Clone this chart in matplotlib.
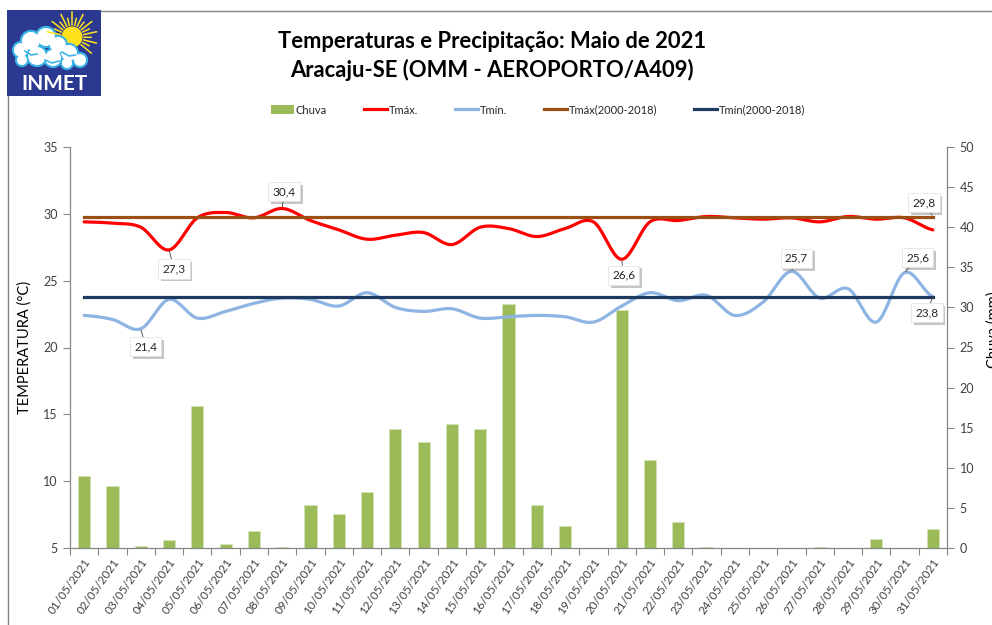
import numpy as np
import matplotlib
matplotlib.use("Agg")
import matplotlib.pyplot as plt
from matplotlib import patheffects
from matplotlib.patches import Rectangle, Circle
from matplotlib.lines import Line2D

plt.rcParams['font.family'] = ['Lato', 'DejaVu Sans']

# dados
dias = ["01/05/2021", "02/05/2021", "03/05/2021", "04/05/2021", "05/05/2021",
        "06/05/2021", "07/05/2021", "08/05/2021", "09/05/2021", "10/05/2021",
        "11/05/2021", "12/05/2021", "13/05/2021", "14/05/2021", "15/05/2021",
        "16/05/2021", "17/05/2021", "18/05/2021", "19/05/2021", "20/05/2021",
        "21/05/2021", "22/05/2021", "23/05/2021", "24/05/2021", "25/05/2021",
        "26/05/2021", "27/05/2021", "28/05/2021", "29/05/2021", "30/05/2021",
        "31/05/2021"]
chuva = [9.0, 7.7, 0.2, 1.0, 17.7, 0.5, 2.1, 0.1, 5.3, 4.2, 7.0, 14.8, 13.2,
         15.5, 14.8, 30.4, 5.3, 2.8, 0.0, 29.7, 11.0, 3.2, 0.1, 0.0, 0.0, 0.0,
         0.1, 0.0, 1.1, 0.0, 2.4]
tmax = [29.4, 29.3, 29.0, 27.3, 29.7, 30.1, 29.7, 30.4, 29.5, 28.8, 28.1,
        28.4, 28.6, 27.7, 29.0, 28.9, 28.3, 28.9, 29.4, 26.6, 29.4, 29.5,
        29.8, 29.7, 29.6, 29.7, 29.4, 29.8, 29.6, 29.7, 28.8]
tmin = [22.4, 22.1, 21.4, 23.6, 22.2, 22.7, 23.3, 23.7, 23.6, 23.1, 24.1,
        23.0, 22.7, 22.9, 22.2, 22.3, 22.4, 22.3, 21.9, 23.1, 24.1, 23.5,
        23.9, 22.4, 23.4, 25.7, 23.7, 24.4, 21.9, 25.6, 23.8]
tmax_normal = 29.8
tmin_normal = 23.8

# rotulos de dados (indice do dia, deslocamento em px)
rot_tmax = [(3, 5, -19), (7, 2, 17), (19, 2, -16)]
rot_tmin = [(2, 5, -18), (25, 5, 13), (29, 13, 15), (30, -6, -16)]


def suave(y, n=20):
    # linha suavizada tipo excel (catmull-rom)
    y = np.asarray(y, float)
    p = np.concatenate([[y[0]], y, [y[-1]]])
    xs, ys = [], []
    t = np.linspace(0, 1, n, endpoint=False)
    for i in range(len(y) - 1):
        p0, p1, p2, p3 = p[i], p[i + 1], p[i + 2], p[i + 3]
        yy = 0.5 * (2 * p1 + (-p0 + p2) * t + (2 * p0 - 5 * p1 + 4 * p2 - p3) * t ** 2
                    + (-p0 + 3 * p1 - 3 * p2 + p3) * t ** 3)
        xs.extend(i + t)
        ys.extend(yy)
    xs.append(len(y) - 1)
    ys.append(y[-1])
    return np.array(xs), np.array(ys)


def etiqueta(ax, i, val, dx, dy):
    txt = f"{val:.1f}".replace('.', ',')
    a = ax.annotate(txt, xy=(i, val), xytext=(dx, dy), textcoords='offset pixels',
                    ha='center', va='center', fontsize=8.5, color='#262626', zorder=10,
                    bbox=dict(boxstyle='square,pad=0.35', fc='white', ec='#e0e0e0', lw=0.5),
                    arrowprops=dict(arrowstyle='-', color='#404040', lw=0.6,
                                    shrinkA=0, shrinkB=1))
    a.get_bbox_patch().set_path_effects([
        patheffects.withSimplePatchShadow(offset=(2, -2), shadow_rgbFace='#7f7f7f', alpha=0.45)])


W, H = 992, 625
fig = plt.figure(figsize=(W / 100, H / 100), dpi=100)

ax = fig.add_axes([70 / W, 1 - 548 / H, 877 / W, 401 / H])
ax2 = ax.twinx()
ax.set_zorder(ax2.get_zorder() + 1)
ax.patch.set_visible(False)

x = np.arange(len(dias))
ax2.bar(x, chuva, width=0.43, color='#9BBB59', edgecolor='#d4e3b5', linewidth=0.6)
ax2.set_ylim(0, 50)
ax2.set_yticks(np.arange(0, 51, 5))

xs, ys = suave(tmax)
ax.plot(xs, ys, color='#FF0000', lw=2.3, solid_capstyle='round')
xs, ys = suave(tmin)
ax.plot(xs, ys, color='#8DB4E2', lw=2.3, solid_capstyle='round')
ax.plot([x[0], x[-1]], [tmax_normal, tmax_normal], color='#9C4F14', lw=2.3)
ax.plot([x[0], x[-1]], [tmin_normal, tmin_normal], color='#1F3A60', lw=2.3)

for i, dx, dy in rot_tmax:
    etiqueta(ax, i, tmax[i], dx, dy)
for i, dx, dy in rot_tmin:
    etiqueta(ax, i, tmin[i], dx, dy)
etiqueta(ax, len(dias) - 1, tmax_normal, -9, 14)

ax.set_xlim(-0.5, len(dias) - 0.5)
ax.set_ylim(5, 35)
ax.set_yticks(np.arange(5, 36, 5))
ax.set_xticks(x)
ax.set_xticklabels(dias, rotation=55, ha='right', rotation_mode='anchor', fontsize=8.5, color='#404040')
ax.set_xticks(np.arange(-0.5, len(dias), 1), minor=True)
ax.tick_params(axis='x', which='major', length=0, pad=6)
ax.tick_params(axis='x', which='minor', length=5, color='#868686', width=0.8)
ax.tick_params(axis='y', length=5, color='#868686', width=0.8, labelsize=9, labelcolor='#404040', pad=4)
ax2.tick_params(axis='y', length=5, color='#868686', width=0.8, labelsize=9, labelcolor='#404040', pad=4)

for s in ['top', 'right']:
    ax.spines[s].set_visible(False)
for s in ['top', 'left', 'bottom']:
    ax2.spines[s].set_visible(False)
for a, s in [(ax, 'left'), (ax, 'bottom'), (ax2, 'right')]:
    a.spines[s].set_color('#868686')
    a.spines[s].set_linewidth(0.9)

ax.set_ylabel('TEMPERATURA (°C)', fontsize=10.5, color='black', labelpad=8)
fig.text(986 / W, 1 - 330 / H, 'Chuva (mm)', rotation=90, fontsize=10.5,
         ha='left', va='center')

# titulo
fig.text(492 / W, 1 - 42 / H, 'Temperaturas e Precipitação: Maio de 2021',
         ha='center', va='center', fontsize=15.8, fontweight='bold')
fig.text(492 / W, 1 - 70 / H, 'Aracaju-SE (OMM - AEROPORTO/A409)',
         ha='center', va='center', fontsize=15.8, fontweight='bold')

# legenda
handles = [Rectangle((0, 0), 1, 1, fc='#9BBB59', ec='none'),
           Line2D([], [], color='#FF0000', lw=2.3),
           Line2D([], [], color='#8DB4E2', lw=2.3),
           Line2D([], [], color='#9C4F14', lw=2.3),
           Line2D([], [], color='#1F3A60', lw=2.3)]
nomes = ['Chuva', 'Tmáx.', 'Tmín.', 'Tmáx(2000-2018)', 'Tmín(2000-2018)']
fig.legend(handles, nomes, loc='center', bbox_to_anchor=(538 / W, 1 - 110 / H), ncol=5,
           frameon=False, fontsize=8, handlelength=2.1, handleheight=0.8,
           handletextpad=0.15, columnspacing=3.3, labelcolor='#262626')

# moldura
fig.add_artist(Line2D([101 / W, 1], [1 - 11 / H, 1 - 11 / H], color='#868686', lw=1))
fig.add_artist(Line2D([7.5 / W, 7.5 / W], [0, 1 - 96 / H], color='#868686', lw=1))

# logo INMET
lg = fig.add_axes([7 / W, 1 - 96 / H, 94 / W, 86 / H])
lg.set_xlim(0, 94)
lg.set_ylim(86, 0)
lg.axis('off')
lg.add_patch(Rectangle((0, 0), 94, 86, fc='#2B3990', ec='none'))
for k, ang in enumerate(np.arange(-40, 171, 13)):
    r2 = 25 if k % 2 == 0 else 19
    c, s = np.cos(np.radians(ang)), np.sin(np.radians(ang))
    lg.plot([65 + 12 * c, 65 + r2 * c], [27 - 12 * s, 27 - r2 * s], color='#FFE31A', lw=1.1)
lg.add_patch(Circle((65, 27), 10.5, fc='#FFE31A', ec='none'))
nuvem = [(14, 40, 8), (24, 31, 10), (39, 27, 10), (51, 35, 9), (62, 43, 9),
         (73, 50, 7), (46, 48, 9), (30, 46, 10), (15, 50, 6), (60, 53, 6)]
for cx, cy, r in nuvem:
    lg.add_patch(Circle((cx, cy), r, fc='white', ec='#3BB3E6', lw=1.6))
for cx, cy, r in nuvem:
    lg.add_patch(Circle((cx, cy), r - 1.2, fc='white', ec='none'))
lg.plot([18, 24, 30], [41, 45, 44], color='#3BB3E6', lw=1.2)
lg.plot([38, 45, 52], [50, 53, 51], color='#3BB3E6', lw=1.2)
lg.plot([55, 62, 68], [42, 46, 45], color='#3BB3E6', lw=1.2)
lg.text(47, 74, 'INMET', color='white', fontsize=15, fontweight='bold', ha='center', va='center')

fig.savefig('out.png', dpi=100)
